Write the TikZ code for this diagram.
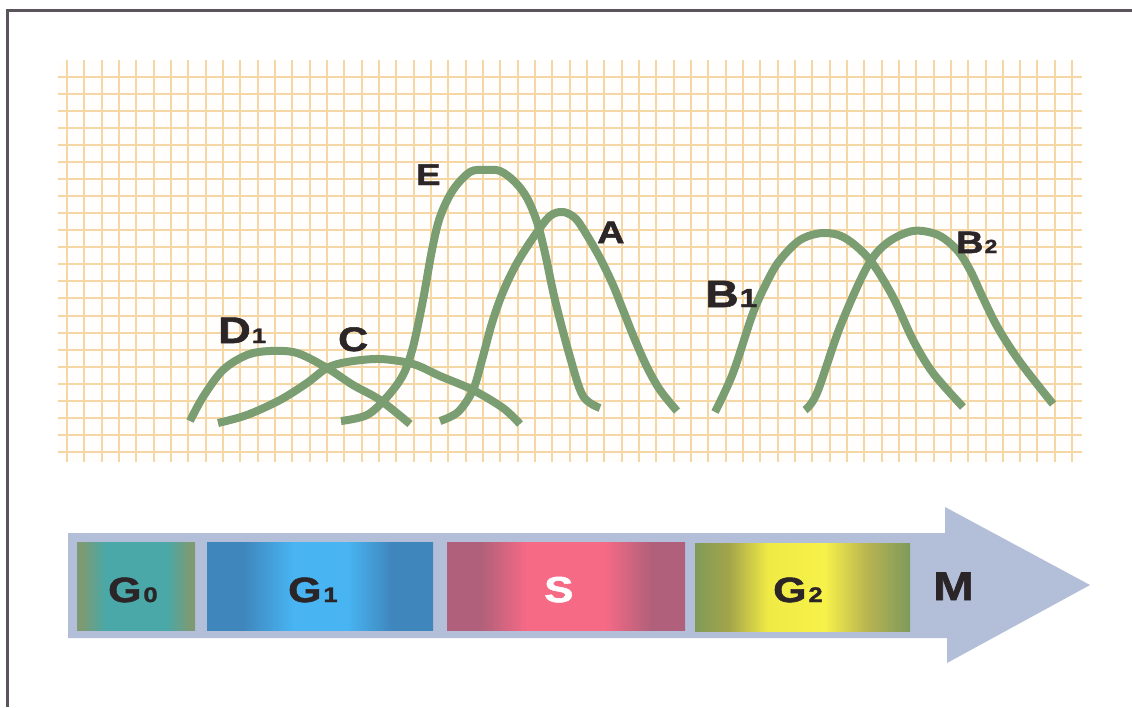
\documentclass[tikz,border=0pt]{standalone}
\usepackage{fontspec}
\setmainfont{Liberation Sans}
\newfontfamily\lblfont{Liberation Sans}[FakeStretch=1.22, FakeBold=1.6]
\newcommand\mysz[1]{\fontsize{#1}{#1}\selectfont}
\definecolor{txt}{HTML}{2B2527}
\definecolor{curvec}{HTML}{7A9D72}
\definecolor{gridc}{HTML}{F5D7A5}
\definecolor{framec}{HTML}{5C545C}
\definecolor{arrowc}{HTML}{B3BFD8}
\definecolor{gze}{HTML}{7D9A72}
\definecolor{gzm}{HTML}{4AA8A8}
\definecolor{goe}{HTML}{3F86BC}
\definecolor{gom}{HTML}{48B4F2}
\definecolor{se}{HTML}{B0607A}
\definecolor{sm}{HTML}{F76A86}
\definecolor{gta}{HTML}{809A58}
\definecolor{gtb}{HTML}{A4A54A}
\definecolor{gtc}{HTML}{F0EA45}
\definecolor{gtd}{HTML}{F7F24A}
\definecolor{gte}{HTML}{B8B450}
\definecolor{gtf}{HTML}{7E9A5C}
\pgfdeclarehorizontalshading{gzsh}{100bp}{color(0bp)=(gze); color(27bp)=(gze); color(37bp)=(gzm); color(63bp)=(gzm); color(73bp)=(gze); color(100bp)=(gze)}
\pgfdeclarehorizontalshading{gosh}{100bp}{color(0bp)=(goe); color(33bp)=(goe); color(44bp)=(gom); color(56bp)=(gom); color(66bp)=(goe); color(100bp)=(goe)}
\pgfdeclarehorizontalshading{ssh}{100bp}{color(0bp)=(se); color(32bp)=(se); color(42bp)=(sm); color(58bp)=(sm); color(68bp)=(se); color(100bp)=(se)}
\pgfdeclarehorizontalshading{gtsh}{100bp}{color(0bp)=(gta); color(25bp)=(gta); color(33bp)=(gtb); color(42bp)=(gtc); color(55bp)=(gtd); color(65bp)=(gte); color(75bp)=(gtf); color(100bp)=(gtf)}
\tikzset{
  framel/.style={draw=framec, line width=3pt},
  gridline/.style={draw=gridc, line width=2pt},
  curve/.style={draw=curvec, line width=8pt},
  lbl/.style={font=\lblfont\bfseries, text=txt, inner sep=0pt, anchor=base west},
  phase/.style={inner sep=0pt, minimum height=88pt, shade},
}
\begin{document}
\begin{tikzpicture}[x=1pt,y=-1pt]
\useasboundingbox (0,0) rectangle (1132,707);
\fill[white] (0,0) rectangle (1132,707);
% frame
\draw[framel] (7,707) -- (7,10.5) -- (1132,10.5);
% grid
\begin{scope}
\clip (58,60) rectangle (1082,462);
\fill[white!92!gridc!40] (58,60) rectangle (1082,462);
\foreach \k in {0,...,58} \draw[gridline] ({67+17.33*\k},60) -- ({67+17.33*\k},462);
\foreach \k in {0,...,22} \draw[gridline] (58,{76.7+17.06*\k}) -- (1082,{76.7+17.06*\k});
\end{scope}
% curves
\draw[curve] plot[smooth, tension=0.55] coordinates {(190,421) (203,397) (223,370) (247,355) (270,351) (297,353) (327,368) (353,385) (380,400) (410,424)};
\draw[curve] plot[smooth, tension=0.55] coordinates {(218,423) (247,415) (280,400) (307,383) (327,368) (347,362) (380,359) (413,364) (440,376) (473,390) (503,408) (520,424)};
\draw[curve] plot[smooth, tension=0.55] coordinates {(341,421) (367,415) (387,397) (403,375) (413,347) (423,300) (432,250) (440,217) (453,190) (470,172) (485,170) (500,171) (515,182) (527,198) (537,222) (545,253) (555,300) (570,357) (583,396) (600,408)};
\draw[curve] plot[smooth, tension=0.55] coordinates {(440,421) (458,412) (473,390) (482,360) (492,323) (503,292) (517,263) (535,235) (550,216) (563,212) (575,218) (585,232) (600,258) (613,285) (623,310) (635,340) (647,367) (660,390) (677,411)};
\draw[curve] plot[smooth, tension=0.55] coordinates {(715,412) (733,373) (753,313) (768,280) (780,260) (800,240) (823,233) (845,238) (870,260) (893,297) (913,340) (933,373) (963,407)};
\draw[curve] plot[smooth, tension=0.55] coordinates {(805,410) (817,393) (840,327) (867,267) (887,243) (913,231) (938,235) (957,250) (970,270) (983,298) (998,328) (1020,362) (1053,404)};
% curve labels
\node[lbl, font=\lblfont\bfseries\mysz{37}] (lD) at (218,343) {D\kern1pt{\mysz{21}1}};
\node[lbl, font=\lblfont\bfseries\mysz{34}] (lC) at (338,351) {C};
\node[lbl, font=\lblfont\bfseries\mysz{30}] (lE) at (416,185) {E};
\node[lbl, font=\lblfont\bfseries\mysz{31}] (lA) at (597,243) {A};
\node[lbl, font=\lblfont\bfseries\mysz{38}] (lB1) at (705,307) {B\kern1pt{\mysz{26}1}};
\node[lbl, font=\lblfont\bfseries\mysz{31}] (lB2) at (956,253) {B\kern1pt{\mysz{19}2}};
% arrow band
\fill[arrowc] (68,533) -- (945,533) -- (945,507) -- (1090,585) -- (947,663) -- (947,638) -- (68,638) -- cycle;
% phase boxes
\node[phase, shading=gzsh, minimum width=118pt] (g0) at (136,586) {};
\node[phase, shading=gosh, minimum width=226pt] (g1) at (320,586) {};
\node[phase, shading=ssh, minimum width=238pt] (s) at (566,586) {};
\node[phase, shading=gtsh, minimum width=215pt] (g2) at (802.5,587) {};
% phase labels
\node[lbl, font=\lblfont\bfseries\mysz{35}] (tg0) at (108,602) {G\kern2pt{\mysz{21}0}};
\node[lbl, font=\lblfont\bfseries\mysz{35}] (tg1) at (288,602) {G\kern2pt{\mysz{21}1}};
\node[lbl, font=\lblfont\bfseries\mysz{36}, text=white] (ts) at (544,602) {S};
\node[lbl, font=\lblfont\bfseries\mysz{35}] (tg2) at (773,602) {G\kern2pt{\mysz{21}2}};
\node[lbl, font=\lblfont\bfseries\mysz{40}] (tm) at (933,600) {M};
\end{tikzpicture}
\end{document}
